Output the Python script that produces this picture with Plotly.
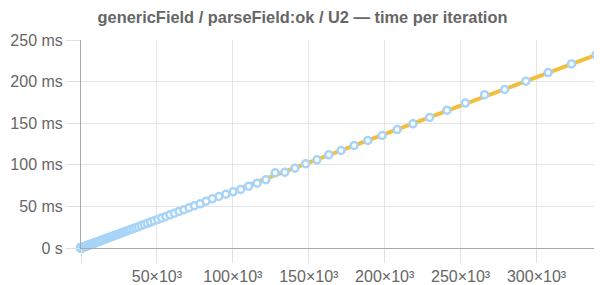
import plotly.graph_objects as go

# Iteration counts (x) and measured time in milliseconds (y)
iterations = [
    1, 2, 3, 4, 5, 6, 7, 8, 9, 10, 11, 12, 13, 14, 15, 16, 17, 18, 19, 20,
    21, 22, 23, 25, 26, 27, 29, 30, 31, 33, 35, 37, 38, 40, 42, 44, 47, 49,
    52, 54, 57, 60, 63, 66, 69, 73, 76, 80, 84, 89, 93, 98, 103, 108, 113,
    119, 125, 131, 138, 145, 152, 159, 167, 176, 185, 194, 204, 214, 224,
    236, 248, 260, 273, 287, 301, 316, 332, 348, 366, 384, 403, 424, 445,
    467, 491, 515, 541,
    568, 597, 627, 658, 691, 725, 762, 800, 840, 882,
    926, 972, 1021, 1072, 1125, 1182, 1241, 1303, 1368, 1436,
    1508, 1583, 1663, 1746, 1833, 1925, 2021, 2122, 2228, 2339,
    2456, 2579, 2708, 2843, 2986, 3135, 3292, 3456, 3629, 3811,
    4001, 4201, 4411, 4632, 4863, 5107, 5362, 5630, 5911, 6207,
    6517, 6843, 7186, 7545, 7922, 8318, 8734, 9171, 9629, 10111,
    10616, 11147, 11704, 12290, 12904, 13549, 14227, 14938, 15685, 16469,
    17293, 18157, 19065, 20018, 21019, 22070, 23174, 24333, 25549, 26827,
    28168, 29576, 31055, 32608, 34238, 35950, 37748, 39635, 41617, 43698,
    45882, 48176, 50585, 53114, 55770, 58558, 61486, 64561, 67789, 71178,
    74737, 78474, 82398, 86518, 90843, 95386, 100155, 105163, 110421, 115942,
    121739, 127826, 134217, 140928, 147974, 155373, 163142, 171299, 179864, 188857,
    198299, 208214, 218625, 229556, 241034, 253086, 265740, 279027, 292978, 307627,
    323010, 339161,
]

time_ms = [
    0.0007, 0.0014, 0.0020, 0.0027, 0.0034, 0.0041, 0.0048, 0.0054, 0.0061, 0.0068,
    0.0075, 0.0082, 0.0088, 0.0095, 0.0102, 0.0109, 0.0116, 0.0122, 0.0129, 0.0136,
    0.0143, 0.0150, 0.0156, 0.0170, 0.0177, 0.0184, 0.0197, 0.0204, 0.0211, 0.0224,
    0.0238, 0.0252, 0.0258, 0.0272, 0.0286, 0.0299, 0.0320, 0.0333, 0.0354, 0.0367,
    0.0388, 0.0408, 0.0428, 0.0449, 0.0469, 0.0496, 0.0517, 0.0544, 0.0571, 0.0605,
    0.0632, 0.0666, 0.0700, 0.0734, 0.0768, 0.0809, 0.0850, 0.0891, 0.0938, 0.0986,
    0.1034, 0.1081, 0.1136, 0.1197, 0.1258, 0.1319, 0.1387, 0.1455, 0.1523, 0.1605,
    0.1686, 0.1768, 0.1856, 0.1952, 0.2047, 0.2149, 0.2258, 0.2366, 0.2489, 0.2611,
    0.2740, 0.2883, 0.3026, 0.3176, 0.3339, 0.3502, 0.3679,
    0.386, 0.406, 0.426, 0.447, 0.470, 0.493, 0.518, 0.544, 0.571, 0.600,
    0.630, 0.661, 0.694, 0.729, 0.765, 0.804, 0.844, 0.886, 0.930, 0.976,
    1.025, 1.076, 1.131, 1.187, 1.246, 1.309, 1.374, 1.443, 1.515, 1.591,
    1.670, 1.754, 1.841, 1.933, 2.030, 2.132, 2.239, 2.350, 2.468, 2.591,
    2.721, 2.857, 2.999, 3.150, 3.307, 3.473, 3.646, 3.828, 4.019, 4.221,
    4.432, 4.653, 4.886, 5.131, 5.387, 5.656, 5.939, 6.236, 6.548, 6.875,
    7.219, 7.580, 7.959, 8.357, 8.775, 9.213, 9.674, 10.158, 10.666, 11.199,
    11.759, 12.347, 12.964, 13.612, 14.293, 15.008, 15.758, 16.546, 17.373, 18.242,
    19.154, 20.112, 21.117, 22.173, 23.282, 24.446, 25.669, 26.952, 28.300, 29.715,
    31.200, 32.760, 34.398, 36.118, 37.924, 39.819, 41.810, 43.901, 46.097, 48.401,
    50.821, 53.1, 56.3, 59.1, 61.9, 64.7, 67.5, 70.3, 74.3, 77.9,
    82.0, 90.4, 91.1, 95.9, 101.2, 106.0, 112.0, 117.2, 123.2, 129.2,
    135.2, 142.4, 149.3, 157.0, 165.7, 174.2, 184.3, 190.5, 200.5, 210.8,
    221.2, 232.2,
]

# Regression line endpoints
fit_x = [0, 339161]
fit_y = [0, 232.0]

x_tick_vals = [0, 50000, 100000, 150000, 200000, 250000, 300000, 339161]
x_tick_text = ["", "50×10³", "100×10³", "150×10³", "200×10³", "250×10³", "300×10³", ""]
y_tick_vals = [0, 50, 100, 150, 200, 250]
y_tick_text = ["0 s", "50 ms", "100 ms", "150 ms", "200 ms", "250 ms"]

title_text = "genericField / parseField:ok / U2 — time per iteration"

# The page body adds an 8px margin; the figure is sized to fit the 602x285 window.
W, H = 594, 277

fig = go.Figure()
fig.add_trace(go.Scatter(
    x=fit_x, y=fit_y, mode="lines",
    line=dict(color="#f2be3d", width=4),
    hoverinfo="skip", showlegend=False, cliponaxis=False,
))
fig.add_trace(go.Scatter(
    x=iterations, y=time_ms, mode="markers",
    marker=dict(symbol="circle", size=7, color="white",
                line=dict(color="#a8d4f7", width=2.5)),
    showlegend=False, cliponaxis=False,
))

fig.update_layout(
    width=W, height=H,
    margin=dict(l=73, r=6, t=32, b=37, autoexpand=False),
    paper_bgcolor="white", plot_bgcolor="white",
    font=dict(family="Liberation Sans, Arial, sans-serif", size=16, color="#666"),
    title=dict(text=title_text, x=(302.5 - 8) / W, xanchor="center", xref="container",
               y=1 - 9.5 / H, yanchor="middle", yref="container",
               font=dict(size=16.4, color="#666", weight="bold")),
    showlegend=False,
)
fig.update_xaxes(
    range=[0, 339161], tickvals=x_tick_vals, ticktext=x_tick_text,
    automargin=False,
    showgrid=True, gridcolor="#e6e6e6", gridwidth=1, zeroline=False,
    showline=True, linecolor="#aaaaaa", linewidth=1,
    ticks="outside", ticklen=14, tickcolor="#e0e0e0", tickwidth=1,
    tickfont=dict(size=16, color="#666"),
)
fig.update_yaxes(
    range=[0, 250], tickvals=y_tick_vals, ticktext=y_tick_text,
    automargin=False,
    showgrid=True, gridcolor="#e6e6e6", gridwidth=1, zeroline=False,
    showline=True, linecolor="#aaaaaa", linewidth=1,
    ticks="outside", ticklen=14, tickcolor="#e0e0e0", tickwidth=1,
    tickfont=dict(size=16, color="#666"),
)

fig.write_html("out.html")
